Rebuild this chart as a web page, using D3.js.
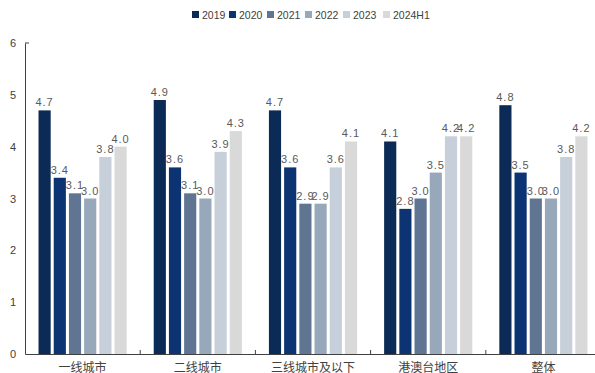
<!DOCTYPE html>
<html>
<head>
<meta charset="utf-8">
<script src="https://cdn.jsdelivr.net/npm/d3@7"></script>
<style>
	body { margin: 0; background: #fff; }
	svg { display: block; font-family: "Liberation Sans", Arial, "Noto Sans CJK SC", sans-serif; }
</style>
</head>
<body>
<div class="chart"></div>
<script>
// data
let categories = ['一线城市', '二线城市', '三线城市及以下', '港澳台地区', '整体'];
let seriesNames = ['2019', '2020', '2021', '2022', '2023', '2024H1'];
let s2019 = [4.7, 4.9, 4.7, 4.1, 4.8];
let s2020 = [3.4, 3.6, 3.6, 2.8, 3.5];
let s2021 = [3.1, 3.1, 2.9, 3.0, 3.0];
let s2022 = [3.0, 3.0, 2.9, 3.5, 3.0];
let s2023 = [3.8, 3.9, 3.6, 4.2, 3.8];
let s2024H1 = [4.0, 4.3, 4.1, 4.2, 4.2];
let yTicks = [0, 1, 2, 3, 4, 5, 6];

let series = [s2019, s2020, s2021, s2022, s2023, s2024H1];
let colors = ['#0b2a56', '#0d3472', '#5f7592', '#97a8bb', '#c6cfda', '#d9d9d9'];

let width = 595, height = 373;
let margin = { top: 43, right: -6, bottom: 19, left: 25 };
let innerW = width - margin.left - margin.right;
let innerH = height - margin.top - margin.bottom;

let svg = d3.select('.chart').append('svg')
	.attr('width', width)
	.attr('height', height);

let g = svg.append('g').attr('transform', 'translate(' + margin.left + ',' + margin.top + ')');

let xScale = d3.scaleBand().domain(categories).range([0, innerW]);
let xInner = d3.scaleBand().domain(seriesNames)
	.range([12, xScale.bandwidth() - 12])
	.paddingInner(0.2).paddingOuter(0.1);
let yScale = d3.scaleLinear().domain([0, 6]).range([innerH, 0]);

// y axis
let yAxis = g.append('g')
	.call(d3.axisLeft(yScale).tickValues(yTicks).tickSize(0).tickPadding(9).tickFormat(d3.format('d')));
yAxis.select('.domain').attr('stroke', '#404040');
yAxis.selectAll('text').attr('font-size', 11).attr('fill', '#404040');
g.append('line')
	.attr('x1', 0).attr('x2', 4)
	.attr('y1', yScale(6)).attr('y2', yScale(6))
	.attr('stroke', '#404040');

// bars
let groups = g.selectAll('.grp')
	.data(categories)
	.enter().append('g')
	.attr('class', 'grp')
	.attr('transform', d => 'translate(' + xScale(d) + ',0)');

groups.each(function (cat, ci) {
	let grp = d3.select(this);
	let vals = series.map((s, si) => ({ key: seriesNames[si], value: s[ci], color: colors[si] }));
	grp.selectAll('rect')
		.data(vals)
		.enter().append('rect')
		.attr('x', d => xInner(d.key))
		.attr('y', d => yScale(d.value))
		.attr('width', xInner.bandwidth())
		.attr('height', d => innerH - yScale(d.value))
		.attr('fill', d => d.color);
	grp.selectAll('text')
		.data(vals)
		.enter().append('text')
		.attr('x', d => xInner(d.key) + xInner.bandwidth() / 2)
		.attr('y', d => yScale(d.value) - 4)
		.attr('text-anchor', 'middle')
		.attr('font-size', 11)
		.attr('letter-spacing', 1)
		.attr('fill', '#595959')
		.text(d => d.value.toFixed(1));
});

// x axis
let xAxis = g.append('g')
	.attr('transform', 'translate(0,' + innerH + ')')
	.call(d3.axisBottom(xScale).tickSize(0).tickPadding(9));
xAxis.select('.domain').attr('stroke', '#404040');
xAxis.selectAll('text').attr('font-size', 12).attr('fill', '#404040')
	.attr('font-family', '"Noto Sans CJK SC", sans-serif');
g.selectAll('.sep')
	.data(categories.slice(1))
	.enter().append('line')
	.attr('x1', d => xScale(d)).attr('x2', d => xScale(d))
	.attr('y1', innerH).attr('y2', innerH - 4)
	.attr('stroke', '#404040');

// legend
let legend = svg.append('g').attr('transform', 'translate(192,15)');
let legendX = [0, 37, 75, 113, 151, 191];
let items = legend.selectAll('g')
	.data(seriesNames)
	.enter().append('g')
	.attr('transform', (d, i) => 'translate(' + legendX[i] + ',0)');
items.append('rect')
	.attr('x', 0).attr('y', -4)
	.attr('width', 7).attr('height', 7)
	.attr('fill', (d, i) => colors[i]);
items.append('text')
	.attr('x', 10).attr('y', 3.5)
	.attr('font-size', 10.5)
	.attr('fill', '#404040')
	.text(d => d);
</script>
</body>
</html>
